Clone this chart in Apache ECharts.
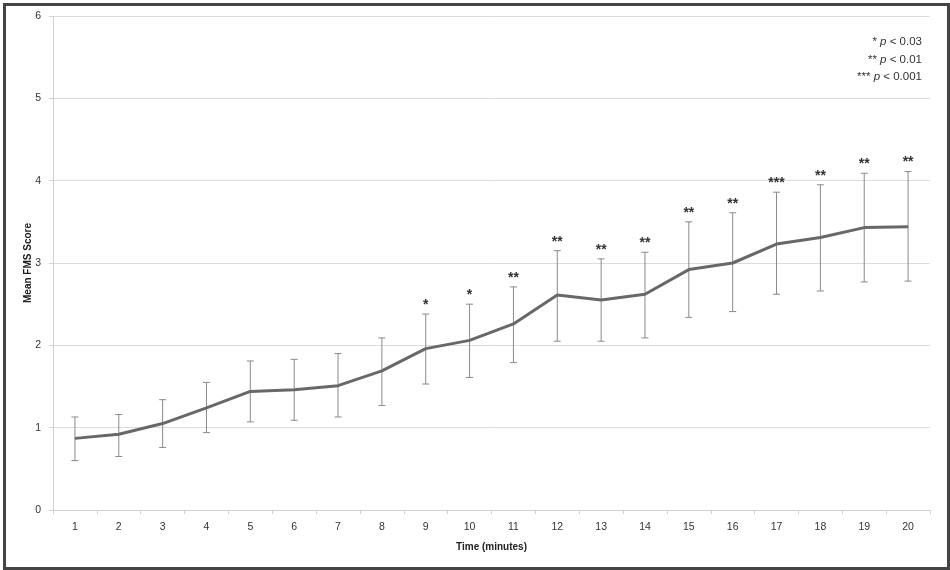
<!DOCTYPE html>
<html>
<head>
<meta charset="utf-8">
<script src="https://cdn.jsdelivr.net/npm/echarts@6/dist/echarts.min.js"></script>
<style>
html,body{margin:0;padding:0;background:#fff;}
#chart{width:950px;height:570px;}
</style>
</head>
<body>
<div id="chart"></div>
<script>
var categories = ['1','2','3','4','5','6','7','8','9','10','11','12','13','14','15','16','17','18','19','20'];
var meanScore = [0.87,0.92,1.05,1.24,1.44,1.46,1.51,1.69,1.96,2.06,2.26,2.61,2.55,2.62,2.92,3.00,3.23,3.31,3.43,3.44];
var upperBar = [1.13,1.16,1.34,1.55,1.81,1.83,1.90,2.09,2.38,2.50,2.71,3.15,3.05,3.13,3.50,3.61,3.86,3.95,4.09,4.11];
var lowerBar = [0.60,0.65,0.76,0.94,1.07,1.09,1.13,1.27,1.53,1.61,1.79,2.05,2.05,2.09,2.34,2.41,2.62,2.66,2.77,2.78];
var significance = ['','','','','','','','','*','*','**','**','**','**','**','**','***','**','**','**'];
var legendLines = [['*','0.03'],['**','0.01'],['***','0.001']];

var font = 'Liberation Sans';
var chart = echarts.init(document.getElementById('chart'));

var errData = categories.map(function(c,i){ return [i, lowerBar[i], upperBar[i], significance[i]]; });

var legendGraphics = legendLines.map(function(l, i){
  return {
    type:'text', right: 28, top: 36 + i*17.5, z: 10,
    style:{
      text: '{s|' + l[0] + ' }{p|p}{s| < ' + l[1] + '}',
      rich:{
        s:{fontFamily:font,fontSize:11.5,fill:'#333'},
        p:{fontFamily:font,fontSize:11.5,fontStyle:'italic',fill:'#333'}
      },
      align:'right'
    }
  };
});

chart.setOption({
  animation:false,
  backgroundColor:'#fff',
  grid:{left:53,right:20,top:16,bottom:60},
  graphic: [{
    type:'rect', left:2, top:2, z:-1,
    shape:{width:944,height:564},
    style:{fill:'none',stroke:'#444',lineWidth:3}
  }].concat(legendGraphics),
  xAxis:{
    type:'category', data:categories, boundaryGap:true,
    name:'Time (minutes)', nameLocation:'middle', nameGap:32, nameMoveOverlap:false,
    nameTextStyle:{fontFamily:font,fontSize:10,fontWeight:'bold',color:'#222'},
    axisLine:{lineStyle:{color:'#d0d0d0'}},
    axisTick:{show:true,length:4,lineStyle:{color:'#d0d0d0'}},
    axisLabel:{fontFamily:font,fontSize:10.5,color:'#333',margin:12},
    splitLine:{show:false}
  },
  yAxis:{
    type:'value', min:0, max:6, interval:1,
    name:'Mean FMS Score', nameLocation:'middle', nameGap:20, nameMoveOverlap:false,
    nameTextStyle:{fontFamily:font,fontSize:10,fontWeight:'bold',color:'#222'},
    axisLine:{show:true,lineStyle:{color:'#d0d0d0'}},
    axisTick:{show:true,length:4,lineStyle:{color:'#d0d0d0'}},
    axisLabel:{fontFamily:font,fontSize:10.5,color:'#333',margin:12},
    splitLine:{lineStyle:{color:'#dcdcdc'}}
  },
  series:[
    {
      type:'custom',
      data: errData,
      z: 2,
      renderItem:function(params, api){
        var x = api.value(0);
        var lo = api.coord([x, api.value(1)]);
        var hi = api.coord([x, api.value(2)]);
        var cap = 3.5;
        var st = {stroke:'#8a8a8a', lineWidth:1};
        var children = [
          {type:'line', shape:{x1:hi[0],y1:hi[1],x2:lo[0],y2:lo[1]}, style:st},
          {type:'line', shape:{x1:hi[0]-cap,y1:hi[1],x2:hi[0]+cap,y2:hi[1]}, style:st},
          {type:'line', shape:{x1:lo[0]-cap,y1:lo[1],x2:lo[0]+cap,y2:lo[1]}, style:st}
        ];
        var sig = significance[params.dataIndex];
        if (sig) {
          children.push({type:'text', style:{
            text: sig, x: hi[0], y: hi[1]-2, align:'center', verticalAlign:'bottom',
            fontFamily:font, fontSize:14, fontWeight:'bold', fill:'#333'
          }});
        }
        return {type:'group', children:children};
      }
    },
    {
      type:'line', data:meanScore, z:3,
      symbol:'none',
      lineStyle:{color:'#686868', width:3}
    }
  ]
});
</script>
</body>
</html>
